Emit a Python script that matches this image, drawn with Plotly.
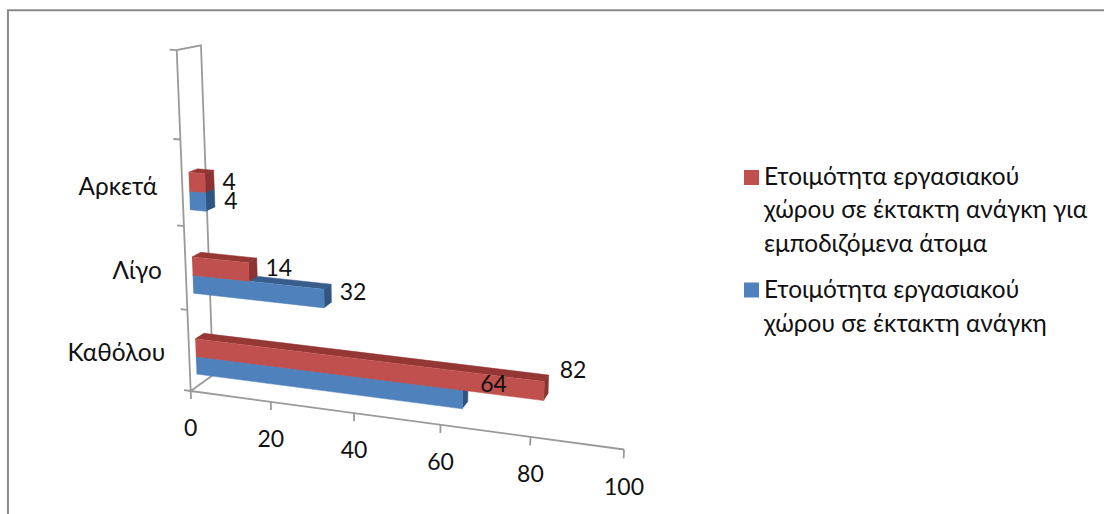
import plotly.graph_objects as go

categories = ["Καθόλου", "Λίγο", "Αρκετά"]
general = [64, 32, 4]
disabled = [82, 14, 4]
value_ticks = [0, 20, 40, 60, 80, 100]
name_red = ["Ετοιμότητα εργασιακού", "χώρου σε έκτακτη ανάγκη για", "εμποδιζόμενα άτομα"]
name_blue = ["Ετοιμότητα εργασιακού", "χώρου σε έκτακτη ανάγκη"]

FONT = "Lato, Open Sans"
FS_NUM = 23
FS_TEXT = 24.4
AXIS = "#9a9a9a"
RED = ("#C0504D", "#953735", "#8A3330")
BLUE = ("#4F81BD", "#385D8A", "#2F5580")


def project(v, h, d):
    """Perspective projection of (value, category height, depth) to the picture plane."""
    w = 1 - 0.000928 * v - 0.015625 * h + 0.035 * d
    x = 190.7 + (3.931 * v - 3.28 * h + 23.1 * d) / w
    y = 391.0 + (0.5307 * v - 79.9 * h - 16.6 * d) / w
    return x, y


fig = go.Figure()


def line(points, width=1.8):
    xy = [project(*p) for p in points]
    fig.add_trace(go.Scatter(x=[p[0] for p in xy], y=[p[1] for p in xy], mode="lines",
                             line=dict(color=AXIS, width=width), showlegend=False, hoverinfo="skip"))


def face(points, color):
    xy = [project(*p) for p in points]
    fig.add_trace(go.Scatter(x=[p[0] for p in xy], y=[p[1] for p in xy], mode="lines", fill="toself",
                             fillcolor=color, line=dict(color=color, width=0.5),
                             showlegend=False, hoverinfo="skip"))


def box(value, h0, h1, colors, d0=0.28, d1=0.66):
    face([(0, h1, d0), (0, h1, d1), (value, h1, d1), (value, h1, d0)], colors[1])
    face([(value, h0, d0), (value, h1, d0), (value, h1, d1), (value, h0, d1)], colors[2])
    face([(0, h0, d0), (value, h0, d0), (value, h1, d0), (0, h1, d0)], colors[0])


def label(x, y, text, anchor="middle center", size=FS_NUM):
    fig.add_trace(go.Scatter(x=[x], y=[y], mode="text", text=[text], textposition=anchor,
                             textfont=dict(family=FONT, size=size, color="#111111"),
                             showlegend=False, hoverinfo="skip"))


# walls and axes
line([(0, 0, 0), (0, 4, 0), (0, 4, 1), (0, 0, 1), (0, 0, 0)])
line([(0, 0, 0), (100, 0, 0)])
for h in range(5):
    line([(0, h, 0), (-1.7, h, 0)])
for v in value_ticks:
    line([(v, 0, 0), (v, -0.1, 0)])

# bars, back to front
for i in (2, 1, 0):
    box(general[i], i + 0.155, i + 0.375, BLUE)
    box(disabled[i], i + 0.375, i + 0.595, RED)

# value axis tick labels
for v in value_ticks:
    x, y = project(v, 0, 0)
    label(x, y + 39.5, str(v))

# category labels
cat_dx = [-24, -24, -25]
cat_dy = [1, 1, 2]
for i, c in enumerate(categories):
    x, y = project(0, i + 0.46, 0)
    label(x + cat_dx[i], y + cat_dy[i], c, "middle left", FS_TEXT)

# data labels
red_off = [(29, -18), (30, -1), (24, 2)]
blue_off = [(31, -13), (29, -4), (25, 2)]
for i in range(3):
    x, y = project(disabled[i], i + 0.49, 0.28)
    label(x + red_off[i][0], y + red_off[i][1], str(disabled[i]))
    x, y = project(general[i], i + 0.27, 0.28)
    label(x + blue_off[i][0], y + blue_off[i][1], str(general[i]))

# legend
for lines, col, ys in ((name_red, RED[0], [179, 212, 245.5]), (name_blue, BLUE[0], [291.5, 325.5])):
    fig.add_trace(go.Scatter(x=[751.5], y=[ys[0] - 1.5], mode="markers", showlegend=False, hoverinfo="skip",
                             name=" ".join(lines),
                             marker=dict(symbol="square", size=15, color=col)))
    for yy, t in zip(ys, lines):
        label(764, yy, t, "middle right", FS_TEXT)

fig.update_layout(
    width=1104, height=514, margin=dict(l=0, r=0, t=0, b=0), showlegend=False,
    paper_bgcolor="white", plot_bgcolor="white",
    xaxis=dict(range=[0, 1104], visible=False, fixedrange=True),
    yaxis=dict(range=[514, 0], visible=False, fixedrange=True),
    font=dict(family=FONT, size=FS_TEXT, color="#111111"),
    shapes=[dict(type="path", xref="paper", yref="paper",
                 path="M 0.0072 0 L 0.0072 0.98 L 1 0.98",
                 line=dict(color="#8a8a8a", width=2))],
)
fig.write_html("out.html", config={"displayModeBar": False},
               post_script="document.body.style.margin='0';document.body.style.overflow='hidden';")
